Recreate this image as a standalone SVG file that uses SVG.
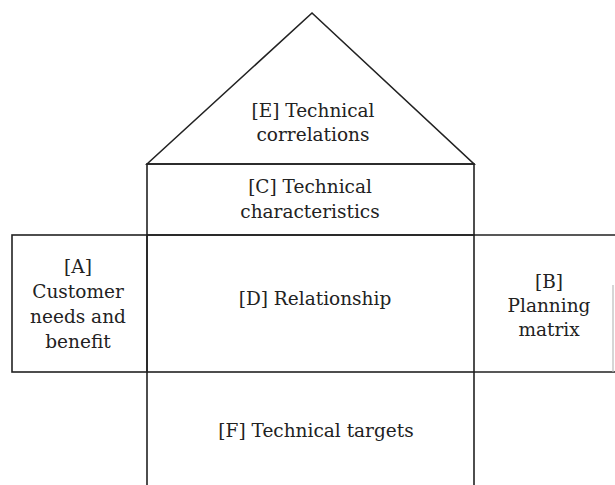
<svg xmlns="http://www.w3.org/2000/svg" width="615" height="485" viewBox="0 0 615 485">
  <style>
    .frame { fill: none; stroke: #222; stroke-width: 1.6; }
    .faint { fill: none; stroke: #bbb; stroke-width: 1.2; }
    .label { font-size: 18.5px; fill: #222; text-anchor: middle; }
  </style>
  <rect width="615" height="485" fill="#fff"/>

  <g font-family="DejaVu Serif">
    <!-- roof: technical correlations -->
    <g id="node-e">
      <polygon class="frame" points="147,164 312,13 474,164"/>
      <text class="label" x="313" y="117">[E] Technical</text>
      <text class="label" x="313" y="141">correlations</text>
    </g>

    <!-- technical characteristics -->
    <g id="node-c">
      <rect class="frame" x="147" y="164" width="327" height="71"/>
      <text class="label" x="310" y="193">[C] Technical</text>
      <text class="label" x="310" y="218">characteristics</text>
    </g>

    <!-- customer needs -->
    <g id="node-a">
      <rect class="frame" x="12" y="235" width="135" height="137"/>
      <text class="label" x="78" y="273">[A]</text>
      <text class="label" x="78" y="298">Customer</text>
      <text class="label" x="78" y="323">needs and</text>
      <text class="label" x="78" y="348">benefit</text>
    </g>

    <!-- relationship matrix -->
    <g id="node-d">
      <rect class="frame" x="147" y="235" width="327" height="137"/>
      <text class="label" x="315" y="305">[D] Relationship</text>
    </g>

    <!-- planning matrix -->
    <g id="node-b">
      <path class="frame" d="M474,235 H615 M474,372 H615"/>
      <path class="faint" d="M613,285 V372"/>
      <text class="label" x="549" y="288">[B]</text>
      <text class="label" x="549" y="312">Planning</text>
      <text class="label" x="549" y="336">matrix</text>
    </g>

    <!-- technical targets (open at the bottom) -->
    <g id="node-f">
      <path class="frame" d="M147,372 V485 M474,372 V485"/>
      <text class="label" x="316" y="437">[F] Technical targets</text>
    </g>
  </g>

  <g id="connectors"></g>
</svg>
